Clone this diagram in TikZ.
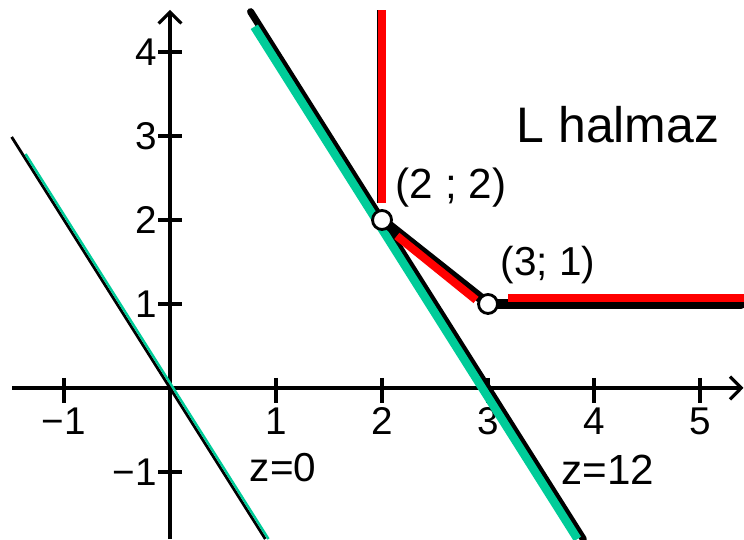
\documentclass[tikz,border=0pt]{standalone}
\usepackage{fontspec}
\setmainfont{Liberation Sans}
\usetikzlibrary{arrows.meta,positioning}
\definecolor{zgreen}{RGB}{0,204,153}

\begin{document}
\begin{tikzpicture}[x=1.06cm, y=0.84cm,
  axis/.style={line width=0.9pt, -{Straight Barb[length=3.2pt,width=6.5pt]}},
  tick/.style={line width=0.9pt},
  ticklbl/.style={inner sep=0pt, font=\fontsize{11}{13}\selectfont},
  lbl/.style={inner sep=0pt, font=\fontsize{12}{14}\selectfont},
  zline/.style={line width=0.8pt},
  bound/.style={line width=2.8pt, line cap=round, line join=round},
  pt/.style={circle, draw, line width=0.8pt, fill=white,
             minimum size=0.19cm, inner sep=0pt}
]
\useasboundingbox (-1.604,-1.798) rectangle (5.415,4.619);

% ===== Axes =====
\draw[axis] (-1.49,0) -- (5.41,0);
\draw[axis] (0,-1.8) -- (0,4.5);
\foreach \i in {-1,1,2,3,4,5}
  \draw[tick] (\i,0.12) -- (\i,-0.18);
\foreach \j in {-1,1,2,3,4}
  \draw[tick] (-0.113,\j) -- (0.113,\j);
\foreach \i/\t in {-1/−1,1/1,2/2,3/3,4/4,5/5}
  \node[ticklbl, anchor=north] (xl\i) at (\i,-0.226) {\t};
\foreach \j/\t in {-1/−1,1/1,2/2,3/3,4/4}
  \node[ticklbl, anchor=east] (yl\j) at (-0.12,\j) {\t};

% ===== z=0 line =====
\draw[zline] (-1.494,2.988) -- (0.899,-1.798);
\draw[zgreen, line width=0.7pt] (-1.363,2.786) -- (0.929,-1.798);

% ===== z=12 line =====
\draw[line width=2pt, line cap=round] (0.76,4.48) -- (3.899,-1.798);
\draw[zgreen, line width=2.4pt] (0.795,4.3) -- (3.844,-1.798);

% ===== L halmaz boundary =====
\coordinate (a) at (2,2);
\coordinate (b) at (3,1);
\draw[bound] (a) -- (b) -- (5.39,1);
\draw[line width=2.2pt] (1.985,2.2) -- (1.985,4.5);
\draw[red, line width=2.1pt] (2,2.2) -- (2,4.5);
\draw[red, line width=2.3pt] (2.14,1.81) -- (2.887,1.048);
\draw[red, line width=2.5pt] (3.19,1.07) -- (5.415,1.07);

% ===== Points =====
\node[pt] (p22) at (a) {};
\node[pt] (p31) at (b) {};

% ===== Labels =====
\node[lbl] (l22) at (2.651,2.381) {(2 ; 2)};
\node[lbl, font=\fontsize{11.5}{13}\selectfont] (l31) at (3.566,1.464) {(3; 1)};
\node[lbl, font=\fontsize{14.2}{16}\selectfont] (lset) at (4.226,3.131) {L halmaz};
\node[lbl, font=\fontsize{11.5}{13}\selectfont] (z0) at (1.066,-0.952) {z=0};
\node[lbl] (z12) at (4.132,-0.976) {z=12};

\end{tikzpicture}
\end{document}
